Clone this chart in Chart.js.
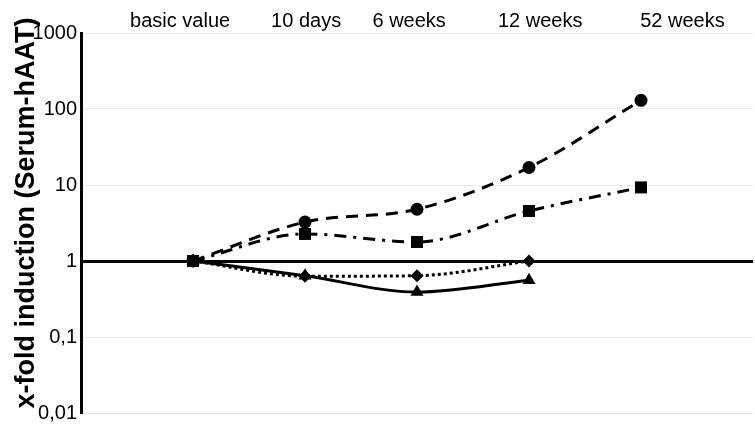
<!DOCTYPE html>
<html>
<head>
<meta charset="utf-8">
<script src="https://cdn.jsdelivr.net/npm/chart.js@4/dist/chart.umd.min.js"></script>
<style>
html,body{margin:0;padding:0;background:#fff;}
#wrap{width:755px;height:429px;}
</style>
</head>
<body>
<div id="wrap"><canvas id="c" width="755" height="429"></canvas></div>
<script>
// Categories (empty slots at both ends give the spacing seen in the reference)
const categories = ['', 'basic value', '10 days', '6 weeks', '12 weeks', '52 weeks', ''];
const headerLabels = ['basic value', '10 days', '6 weeks', '12 weeks', '52 weeks'];
const yTickValues = [0.01, 0.1, 1, 10, 100, 1000];
const yTitle = 'x-fold induction (Serum-hAAT)';

// Series values (x-fold induction)
const circleSeries   = [null, 1, 3.25, 4.8, 17, 130, null];
const squareSeries   = [null, 1, 2.27, 1.78, 4.55, 9.3, null];
const diamondSeries  = [null, 1, 0.63, 0.64, 1.0, null, null];
const triangleSeries = [null, 1, 0.64, 0.39, 0.56, null, null];

// Layout only: where the header texts sit along the category axis (in category units)
const headerPlacement = [0.885, 2.01, 2.93, 4.1, 5.37];

const font = "'Liberation Sans', Arial, sans-serif";

function ds(data, style, radius, dash) {
  return {
    data: data,
    xAxisID: 'x',
    borderColor: '#000',
    backgroundColor: '#000',
    pointBackgroundColor: '#000',
    pointBorderColor: '#000',
    pointStyle: style,
    pointRadius: radius,
    pointBorderWidth: 0,
    borderWidth: 3,
    borderDash: dash,
    tension: 0.35,
    cubicInterpolationMode: 'monotone',
    spanGaps: false,
    clip: false
  };
}

// Draws the rotated y-axis title (real text) slightly above the axis centre, as in the reference
const yTitlePlugin = {
  id: 'yTitlePlugin',
  afterDraw(chart) {
    const ctx = chart.ctx;
    const a = chart.chartArea;
    ctx.save();
    ctx.translate(27, (a.top + a.bottom) / 2 - 10);
    ctx.rotate(-Math.PI / 2);
    ctx.fillStyle = '#000';
    ctx.font = "bold 27px " + font;
    ctx.textAlign = 'center';
    ctx.textBaseline = 'middle';
    ctx.fillText(yTitle, 0, 0);
    ctx.restore();
  }
};

new Chart(document.getElementById('c'), {
  type: 'line',
  data: {
    labels: categories,
    datasets: [
      ds(circleSeries, 'circle', 6.5, [12, 8]),
      ds(squareSeries, 'rect', 8.5, [12, 7, 3, 7]),
      ds(diamondSeries, 'rectRot', 6.5, [3, 3]),
      ds(triangleSeries, 'triangle', 7.5, [])
    ]
  },
  plugins: [yTitlePlugin],
  options: {
    responsive: false,
    animation: false,
    devicePixelRatio: 1,
    layout: { autoPadding: false, padding: { left: 0, right: 2, top: 0, bottom: 16 } },
    plugins: { legend: { display: false }, tooltip: { enabled: false } },
    scales: {
      x: {
        type: 'category',
        position: 'top',
        offset: false,
        display: false
      },
      head: {
        type: 'linear',
        position: 'top',
        min: 0,
        max: categories.length - 1,
        offset: false,
        grid: { display: false, drawTicks: false },
        border: { display: false },
        afterBuildTicks: function (s) {
          s.ticks = headerPlacement.map(v => ({ value: v }));
        },
        ticks: {
          color: '#000',
          font: { family: font, size: 20 },
          padding: 0,
          maxRotation: 0,
          autoSkip: false,
          callback: function (v, i) { return headerLabels[i]; }
        },
        afterFit: function (s) { s.height = 33; }
      },
      y: {
        type: 'logarithmic',
        min: 0.01,
        max: 1000,
        afterBuildTicks: function (s) {
          s.ticks = yTickValues.map(v => ({ value: v }));
        },
        afterFit: function (s) { s.width = 81; },
        border: { display: true, color: '#000', width: 3 },
        grid: {
          drawTicks: false,
          color: c => (c.tick && c.tick.value === 1) ? '#000' : '#e6e6e6',
          lineWidth: c => (c.tick && c.tick.value === 1) ? 3 : 1
        },
        ticks: {
          color: '#000',
          font: { family: font, size: 20 },
          padding: 4,
          callback: v => String(v).replace('.', ',')
        },
        title: { display: false }
      }
    }
  }
});
</script>
</body>
</html>
